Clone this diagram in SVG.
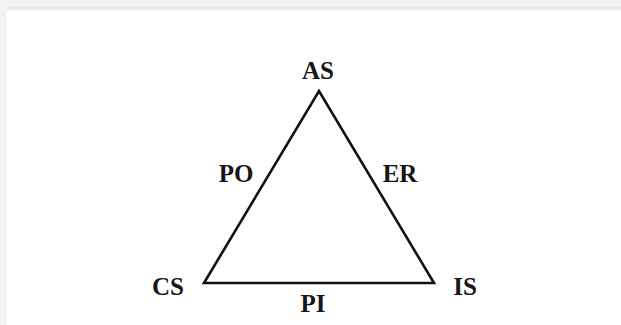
<svg xmlns="http://www.w3.org/2000/svg" width="621" height="325" viewBox="0 0 621 325">
<style>
.lbl{font-family:"Liberation Serif","Times New Roman",serif;font-size:25px;font-weight:bold;fill:#161616;text-anchor:middle}
.edge{stroke:#111;stroke-width:2.6;fill:none;stroke-linejoin:miter;stroke-linecap:round}
</style>
<rect x="0" y="0" width="621" height="325" fill="#f3f3f3"/>
<rect x="7" y="7" width="614" height="318" fill="#e8e8e8"/>
<rect x="7" y="10" width="614" height="315" fill="#ffffff"/>
<g id="connectors">
<path class="edge" d="M204,283 L319,91 L434,283 Z"/>
</g>
<g id="AS"><text class="lbl" x="318" y="79">AS</text></g>
<g id="CS"><text class="lbl" x="168" y="295">CS</text></g>
<g id="IS"><text class="lbl" x="465" y="295">IS</text></g>
<g id="PO"><text class="lbl" x="236" y="182">PO</text></g>
<g id="ER"><text class="lbl" x="400" y="182">ER</text></g>
<g id="PI"><text class="lbl" x="313" y="312">PI</text></g>
</svg>
